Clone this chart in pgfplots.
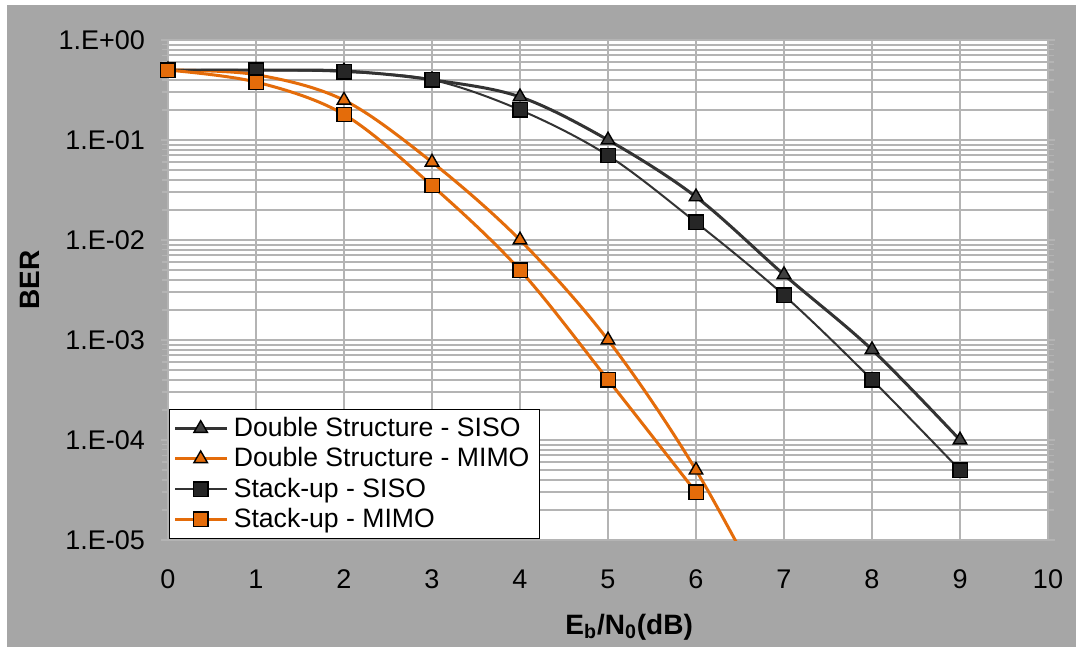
\documentclass[border=0pt]{standalone}
\usepackage{fontspec}
\setmainfont{Liberation Sans}
\usepackage{pgfplots}
\pgfplotsset{compat=1.18}
\definecolor{bggray}{RGB}{166,166,166}
\definecolor{gridgray}{RGB}{180,180,180}
\definecolor{dk}{RGB}{51,51,51}
\definecolor{dkfill}{RGB}{64,64,64}
\definecolor{sqfill}{RGB}{38,38,38}
\definecolor{org}{RGB}{228,108,10}
\begin{document}
\begin{tikzpicture}
\fill[white] (0,0) rectangle (538pt,323.5pt);
\fill[bggray] (3.5pt,0) rectangle (538pt,321pt);
\begin{axis}[
  at={(84pt,53.5pt)}, anchor=south west,
  scale only axis, width=440pt, height=250pt,
  ymode=log, xmin=0, xmax=10, ymin=1e-5, ymax=1,
  axis background/.style={fill=white},
  xtick={0,1,...,10},
  ytick={1e-5,1e-4,1e-3,1e-2,1e-1,1},
  yticklabels={1.E-05,1.E-04,1.E-03,1.E-02,1.E-01,1.E+00},
  minor ytick={2e-5,3e-5,4e-5,5e-5,6e-5,7e-5,8e-5,9e-5,
               2e-4,3e-4,4e-4,5e-4,6e-4,7e-4,8e-4,9e-4,
               2e-3,3e-3,4e-3,5e-3,6e-3,7e-3,8e-3,9e-3,
               2e-2,3e-2,4e-2,5e-2,6e-2,7e-2,8e-2,9e-2,
               2e-1,3e-1,4e-1,5e-1,6e-1,7e-1,8e-1,9e-1},
  xmajorgrids, ymajorgrids, yminorgrids,
  grid style={gridgray, line width=1pt},
  minor grid style={gridgray, line width=1pt},
  axis line style={gridgray, line width=1pt},
  tick align=outside,
  major tick length=3.5pt, minor tick length=3pt,
  y tick style={gridgray, line width=0.8pt},
  x tick style={draw=none},
  tick label style={font=\fontsize{13.5}{15}\selectfont, text=black},
  /pgf/number format/assume math mode=true,
  xticklabel style={yshift=-8pt},
  yticklabel style={xshift=-4.5pt},
  xlabel={E\textsubscript{b}/N\textsubscript{0}(dB)},
  ylabel={BER},
  xlabel style={at={(axis description cs:0.524,-0.174)}, anchor=center, font=\fontsize{14}{16}\selectfont\bfseries},
  ylabel style={at={(axis description cs:-0.157,0.52)}, anchor=center, font=\fontsize{14}{16}\selectfont\bfseries},
  legend style={at={(axis cs:0.01,1.02e-5)}, anchor=south west, draw=black, line width=0.7pt, fill=white,
    font=\fontsize{13.3}{15}\selectfont, row sep=0pt, inner sep=2pt,
    nodes={inner xsep=3pt}},
  legend cell align=left,
  legend image code/.code={\draw[#1, mark indices={2}] plot coordinates {(0cm,0cm) (0.45cm,0cm) (0.9cm,0cm)};},
  every axis plot/.append style={smooth, tension=0.55},
]
\addplot[dk, line width=1.5pt, mark=triangle*, mark size=3.9pt, mark options={fill=dkfill, draw=black, line width=0.7pt}]
 coordinates {(0,0.5) (1,0.5) (2,0.49) (3,0.4) (4,0.27) (5,0.1) (6,0.027) (7,0.0045) (8,8e-4) (9,1e-4)};
\addlegendentry{Double Structure - SISO}
\addplot[org, line width=1.5pt, mark=triangle*, mark size=3.9pt, mark indices={1,2,3,4,5,6,7}, mark options={fill=org, draw=black, line width=0.7pt}]
 coordinates {(0,0.5) (1,0.45) (2,0.25) (3,0.06) (4,0.01) (5,1e-3) (6,5e-5) (7,1.2e-6)};
\addlegendentry{Double Structure - MIMO}
\addplot[dk, line width=1pt, mark=square*, mark size=3.6pt, mark options={fill=sqfill, draw=black, line width=0.7pt}]
 coordinates {(0,0.5) (1,0.5) (2,0.48) (3,0.4) (4,0.2) (5,0.07) (6,0.015) (7,0.0028) (8,4e-4) (9,5e-5)};
\addlegendentry{Stack-up - SISO}
\addplot[org, line width=1.5pt, mark=square*, mark size=3.6pt, mark options={fill=org, draw=black, line width=0.7pt}]
 coordinates {(0,0.5) (1,0.38) (2,0.18) (3,0.035) (4,5e-3) (5,4e-4) (6,3e-5)};
\addlegendentry{Stack-up - MIMO}
\end{axis}
\pgfresetboundingbox
\path (0,0) rectangle (538pt,323.5pt);
\end{tikzpicture}
\end{document}
